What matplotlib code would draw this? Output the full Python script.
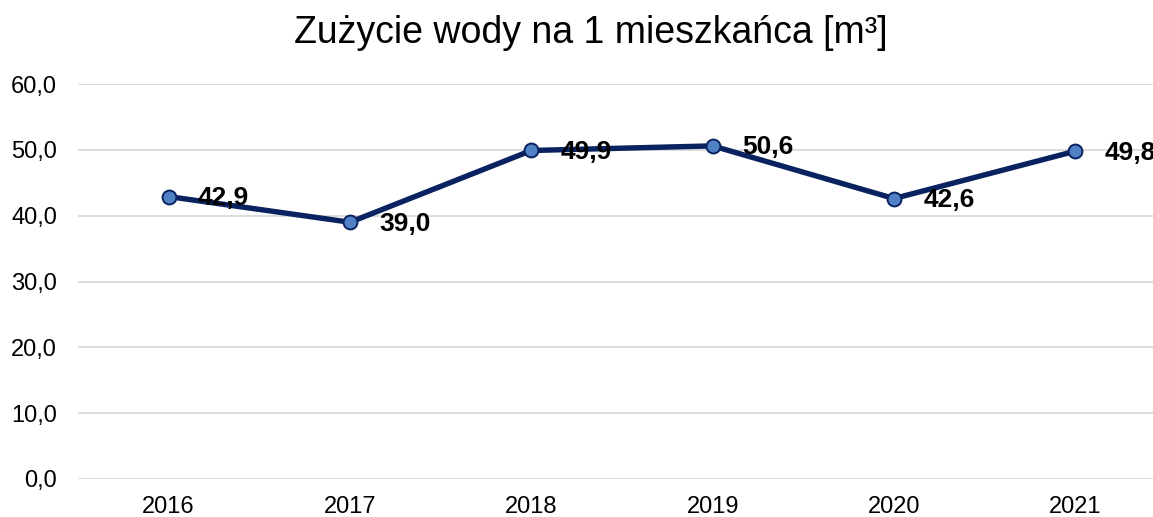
import matplotlib.pyplot as plt

years = ['2016', '2017', '2018', '2019', '2020', '2021']
values = [42.9, 39.0, 49.9, 50.6, 42.6, 49.8]
yticks = [0, 10, 20, 30, 40, 50, 60]

plt.rcParams['font.family'] = ['Liberation Sans', 'DejaVu Sans']

fig = plt.figure(figsize=(11.53, 5.17), dpi=100)
ax = fig.add_axes([78 / 1153, 1 - 479 / 517, 1088 / 1153, (479 - 84) / 517])

x = list(range(len(years)))
ax.plot(x, values, color='#0a2360', lw=3.9, marker='o', ms=10,
        markerfacecolor='#4f81c4', markeredgecolor='#0a2360', markeredgewidth=1.4,
        zorder=3, clip_on=False)

for xi, v in zip(x, values):
    ax.annotate(f'{v:.1f}'.replace('.', ','), (xi, v), xytext=(21, -1),
                textcoords='offset points', ha='left', va='center',
                fontsize=19, fontweight='bold', color='black', zorder=4,
                annotation_clip=False)

ax.set_xlim(-0.5, len(years) - 0.5)
ax.set_ylim(0, 60)
ax.set_yticks(yticks)
ax.set_yticklabels([f'{t:.1f}'.replace('.', ',') for t in yticks], fontsize=17)
ax.set_xticks(x)
ax.set_xticklabels(years, fontsize=17)
ax.tick_params(length=0)
ax.tick_params(axis='x', pad=12.5)
ax.tick_params(axis='y', pad=15)
ax.grid(axis='y', color='#d9d9d9', lw=1.3)
ax.set_axisbelow(True)
for s in ax.spines.values():
    s.set_visible(False)

fig.text(591 / 1153, 1 - 33 / 517, 'Zużycie wody na 1 mieszkańca [m³]',
         ha='center', va='center', fontsize=27)

fig.savefig('out.png', dpi=100)
